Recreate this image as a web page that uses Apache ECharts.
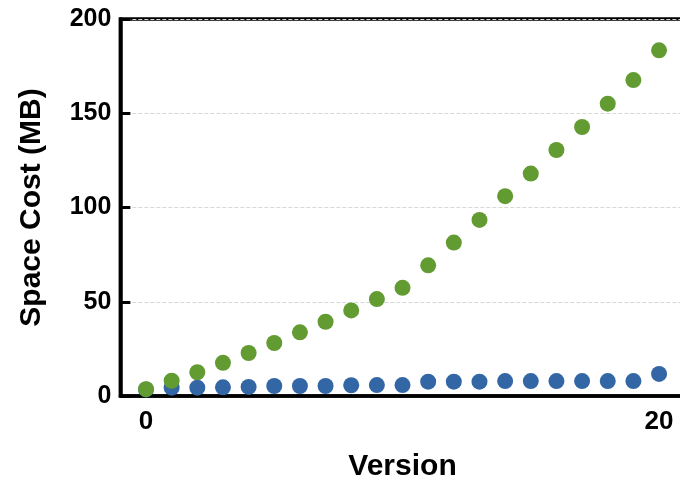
<!DOCTYPE html>
<html><head><meta charset="utf-8">
<script src="https://cdn.jsdelivr.net/npm/echarts@6/dist/echarts.min.js"></script>
<style>html,body{margin:0;padding:0;background:#fff}#c{width:680px;height:480px}</style>
</head><body><div id="c"></div>
<script>
const versions = [0,1,2,3,4,5,6,7,8,9,10,11,12,13,14,15,16,17,18,19,20];
const greenValues = [3.6,8.1,12.6,17.6,22.8,28.1,33.8,39.4,45.4,51.4,57.4,69.3,81.4,93.4,106.0,118.0,130.5,142.7,155.1,167.6,183.4];
const blueValues = [3.5,4.4,4.4,4.6,4.8,5.3,5.3,5.3,5.7,5.8,5.8,7.6,7.6,7.6,7.9,7.9,7.9,7.9,7.9,7.9,11.7];
const xTickLabels = [0,20];
const yTicks = [0,50,100,150,200];

const chart = echarts.init(document.getElementById('c'));
const font = 'Liberation Sans, Arial, sans-serif';
chart.setOption({
  animation:false,
  grid:{left:120.35,right:-4.7,top:19,bottom:84,show:true,borderColor:'#000',borderWidth:3.5,containLabel:false,outerBoundsMode:'none'},
  xAxis:{type:'value',min:-1,max:21,
    name:'Version',nameLocation:'middle',nameGap:56,
    nameTextStyle:{fontFamily:font,fontWeight:'bold',fontSize:30,color:'#000'},
    axisLine:{show:true,onZero:false,lineStyle:{color:'#000',width:3.5}},
    axisTick:{show:false},
    splitLine:{show:false},
    axisLabel:{customValues:xTickLabels,fontFamily:font,fontWeight:'bold',fontSize:26,color:'#000',margin:13}
  },
  yAxis:{type:'value',min:0,max:200,interval:50,
    name:'Space Cost (MB)',nameLocation:'middle',nameGap:74,
    nameTextStyle:{fontFamily:font,fontWeight:'bold',fontSize:30,color:'#000'},
    axisLine:{show:true,onZero:false,lineStyle:{color:'#000',width:3.5}},
    axisTick:{show:true,inside:true,length:10,lineStyle:{color:'#000',width:3}},
    splitLine:{show:true,lineStyle:{color:'#d8d8d8',type:'dashed',width:1}},
    axisLabel:{customValues:yTicks,fontFamily:font,fontWeight:'bold',fontSize:25,color:'#000',margin:9}
  },
  series:[
    {type:'scatter',symbolSize:16,data:versions.map((v,i)=>[v,blueValues[i]]),itemStyle:{color:'#3366a4',opacity:1}},
    {type:'scatter',symbolSize:16,data:versions.map((v,i)=>[v,greenValues[i]]),itemStyle:{color:'#629b32',opacity:1}}
  ]
});
</script></body></html>
